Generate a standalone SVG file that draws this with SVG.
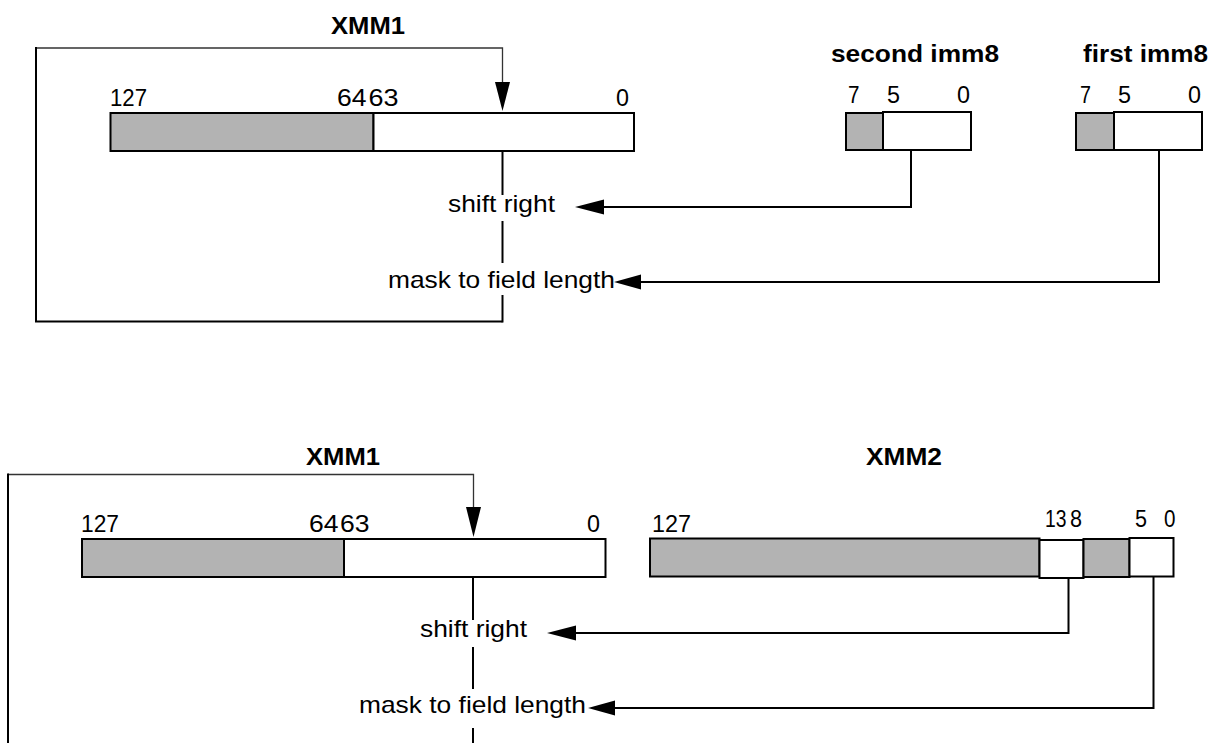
<svg xmlns="http://www.w3.org/2000/svg" width="1211" height="743" viewBox="0 0 1211 743">
<style>
text{font-family:"Liberation Sans",Arial,sans-serif;font-size:24px;fill:#000}
.b{font-weight:bold}
.g{fill:#b3b3b3;stroke:#000;stroke-width:2}
.w{fill:#fff;stroke:#000;stroke-width:2}
.ln{fill:none;stroke:#000;stroke-width:2}
.th{fill:none;stroke:#333;stroke-width:1.3}
.ah{fill:#000}
</style>
<rect width="1211" height="743" fill="#fff"/>

<g id="connectors">
  <!-- top loop -->
  <polyline class="th" points="36,48 502.5,48 502.5,84"/>
  <polygon class="ah" points="495,82 510,82 502.5,111"/>
  <line class="ln" x1="36" y1="47" x2="36" y2="322"/>
  <line class="ln" x1="35" y1="321.5" x2="502.5" y2="321.5"/>
  <line class="ln" x1="502.5" y1="151" x2="502.5" y2="195"/>
  <line class="ln" x1="502.5" y1="221" x2="502.5" y2="263"/>
  <line class="ln" x1="502.5" y1="295" x2="502.5" y2="322.5"/>
  <polyline class="ln" points="911,150 911,207 603,207"/>
  <polygon class="ah" points="575,207 604,199.5 604,214.5"/>
  <polyline class="ln" points="1159,150 1159,282 640,282"/>
  <polygon class="ah" points="614,282 641,274.5 641,289.5"/>

  <!-- bottom loop -->
  <polyline class="th" points="8,474.5 473.5,474.5 473.5,510"/>
  <polygon class="ah" points="466,507 481,507 473.5,537"/>
  <line class="ln" x1="8" y1="473.5" x2="8" y2="743"/>
  <line class="ln" x1="473" y1="578" x2="473" y2="620"/>
  <line class="ln" x1="473" y1="647" x2="473" y2="689"/>
  <line class="ln" x1="473" y1="728" x2="473" y2="743"/>
  <polyline class="ln" points="1068.5,578 1068.5,633 575,633"/>
  <polygon class="ah" points="547,633 576,625.5 576,640.5"/>
  <polyline class="ln" points="1153.5,577 1153.5,708 614,708"/>
  <polygon class="ah" points="588,708 615,700.5 615,715.5"/>
</g>

<g id="top-xmm1">
  <text class="b" x="331" y="34" textLength="74" lengthAdjust="spacingAndGlyphs">XMM1</text>
  <rect class="g" x="110.5" y="113" width="263" height="38"/>
  <rect class="w" x="373.5" y="113" width="260.5" height="38"/>
  <text x="110" y="106" textLength="37" lengthAdjust="spacingAndGlyphs">127</text>
  <text x="337" y="106" textLength="29.5" lengthAdjust="spacingAndGlyphs">64</text>
  <text x="368.5" y="106" textLength="30" lengthAdjust="spacingAndGlyphs">63</text>
  <text x="616" y="106" textLength="13" lengthAdjust="spacingAndGlyphs">0</text>
</g>

<g id="top-labels">
  <text x="448" y="212" textLength="107" lengthAdjust="spacingAndGlyphs">shift right</text>
  <text x="388" y="288" textLength="227" lengthAdjust="spacingAndGlyphs">mask to field length</text>
</g>

<g id="second-imm8">
  <text class="b" x="831" y="62" textLength="168" lengthAdjust="spacingAndGlyphs">second imm8</text>
  <text x="848" y="103" textLength="11.5" lengthAdjust="spacingAndGlyphs">7</text>
  <text x="887" y="103" textLength="13" lengthAdjust="spacingAndGlyphs">5</text>
  <text x="957" y="103" textLength="13" lengthAdjust="spacingAndGlyphs">0</text>
  <rect class="g" x="846" y="113" width="37" height="37"/>
  <rect class="w" x="883" y="112" width="88" height="38"/>
</g>

<g id="first-imm8">
  <text class="b" x="1083" y="62" textLength="125" lengthAdjust="spacingAndGlyphs">first imm8</text>
  <text x="1080" y="103" textLength="11" lengthAdjust="spacingAndGlyphs">7</text>
  <text x="1118" y="103" textLength="13" lengthAdjust="spacingAndGlyphs">5</text>
  <text x="1188" y="103" textLength="13" lengthAdjust="spacingAndGlyphs">0</text>
  <rect class="g" x="1076" y="113" width="38" height="37"/>
  <rect class="w" x="1114" y="112" width="88" height="38"/>
</g>

<g id="bottom-xmm1">
  <text class="b" x="306" y="465" textLength="74" lengthAdjust="spacingAndGlyphs">XMM1</text>
  <rect class="g" x="82" y="539" width="262" height="38"/>
  <rect class="w" x="344" y="539" width="261.5" height="38"/>
  <text x="81" y="532" textLength="38" lengthAdjust="spacingAndGlyphs">127</text>
  <text x="309" y="532" textLength="29.5" lengthAdjust="spacingAndGlyphs">64</text>
  <text x="340" y="532" textLength="29.5" lengthAdjust="spacingAndGlyphs">63</text>
  <text x="587" y="532" textLength="13" lengthAdjust="spacingAndGlyphs">0</text>
</g>

<g id="bottom-labels">
  <text x="420" y="637" textLength="107" lengthAdjust="spacingAndGlyphs">shift right</text>
  <text x="359" y="713" textLength="227" lengthAdjust="spacingAndGlyphs">mask to field length</text>
</g>

<g id="xmm2">
  <text class="b" x="866" y="465" textLength="76" lengthAdjust="spacingAndGlyphs">XMM2</text>
  <rect class="g" x="650" y="538.5" width="389.5" height="38"/>
  <rect class="w" x="1039.5" y="540" width="44" height="38"/>
  <rect class="g" x="1083.5" y="539" width="46" height="38"/>
  <rect class="w" x="1129.5" y="538" width="44" height="38.5"/>
  <text x="652" y="532" textLength="39" lengthAdjust="spacingAndGlyphs">127</text>
  <text x="1045" y="527" textLength="21.5" lengthAdjust="spacingAndGlyphs">13</text>
  <text x="1070" y="527" textLength="12" lengthAdjust="spacingAndGlyphs">8</text>
  <text x="1135" y="527" textLength="12" lengthAdjust="spacingAndGlyphs">5</text>
  <text x="1164" y="527" textLength="11.5" lengthAdjust="spacingAndGlyphs">0</text>
</g>
</svg>
